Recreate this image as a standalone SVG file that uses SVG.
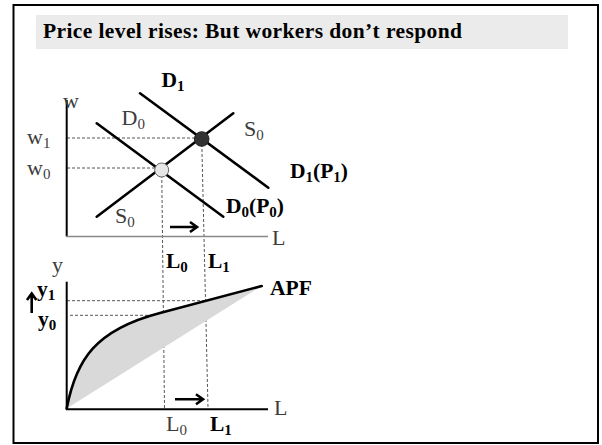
<svg xmlns="http://www.w3.org/2000/svg" width="602" height="445" viewBox="0 0 602 445">
  <style>
    .t { font-family: "Liberation Serif", "Times New Roman", serif; font-size: 21.5px; }
    .b { font-weight: bold; fill: #000; }
    .r { fill: #3c3c3c; font-size: 22px; }
    .sub { font-size: 15px; }
    .curve { stroke: #000; stroke-width: 2.6; fill: none; stroke-linecap: round; }
    .axis { stroke: #000; stroke-width: 2; fill: none; }
    .dash { stroke: #555; stroke-width: 1; stroke-dasharray: 3 2; fill: none; }
    .arrow { stroke: #000; stroke-width: 2.6; fill: none; stroke-linejoin: miter; }
  </style>
  <rect width="602" height="445" fill="#fff"/>
  <g id="frame">
    <rect x="13.5" y="5" width="584.5" height="438" fill="none" stroke="#000" stroke-width="2"/>
  </g>
  <g id="title">
    <rect x="36" y="15" width="532" height="34" fill="#ebebeb"/>
    <text class="t b" x="43" y="38" font-size="19.5" textLength="419">Price level rises: But workers don’t respond</text>
  </g>
  <g id="connectors">
    <line class="dash" x1="67" y1="138" x2="201" y2="138"/>
    <line class="dash" x1="67" y1="168" x2="161" y2="168"/>
    <line class="dash" x1="161.7" y1="170" x2="164.5" y2="408"/>
    <line class="dash" x1="201.7" y1="139" x2="208" y2="408"/>
    <line class="dash" x1="67" y1="300.7" x2="208" y2="300.7"/>
    <line class="dash" x1="70" y1="315.3" x2="163.5" y2="315.3"/>
  </g>
  <g id="labour-market">
    <line class="axis" x1="66.7" y1="100" x2="66.7" y2="236.5"/>
    <line x1="66" y1="236.5" x2="268" y2="236.5" stroke="#888" stroke-width="1.5"/>
    <line class="curve" x1="96.7" y1="123.3" x2="223.3" y2="216.7"/>
    <line class="curve" x1="140" y1="93.3" x2="268.3" y2="187.7"/>
    <line class="curve" x1="96.7" y1="216.7" x2="233.3" y2="113.3"/>
    <circle cx="201.7" cy="139" r="7.3" fill="#333" stroke="#222" stroke-width="1"/>
    <circle cx="161.7" cy="170" r="7" fill="#e6e6e6" stroke="#666" stroke-width="1"/>
    <path class="arrow" d="M170,227 L197,227 M190,222 L197,227 L190,232"/>
    <text class="t r" x="63" y="108" font-size="19">w</text>
    <text class="t r" x="27" y="144">w<tspan class="sub" dy="4">1</tspan></text>
    <text class="t r" x="27" y="175">w<tspan class="sub" dy="4">0</tspan></text>
    <text class="t b" x="161.5" y="87">D<tspan class="sub" dy="4">1</tspan></text>
    <text class="t r" x="121.5" y="125">D<tspan class="sub" dy="4">0</tspan></text>
    <text class="t r" x="244" y="136">S<tspan class="sub" dy="4">0</tspan></text>
    <text class="t r" x="115" y="223">S<tspan class="sub" dy="4">0</tspan></text>
    <text class="t b" x="290" y="178">D<tspan class="sub" dy="4">1</tspan><tspan dy="-4">(P</tspan><tspan class="sub" dy="4">1</tspan><tspan dy="-4">)</tspan></text>
    <text class="t b" x="226" y="213">D<tspan class="sub" dy="4">0</tspan><tspan dy="-4">(P</tspan><tspan class="sub" dy="4">0</tspan><tspan dy="-4">)</tspan></text>
    <text class="t r" x="272" y="245">L</text>
    <text class="t b" x="166" y="268">L<tspan class="sub" dy="4">0</tspan></text>
    <text class="t b" x="208" y="268">L<tspan class="sub" dy="4">1</tspan></text>
  </g>
  <g id="production">
    <path d="M66.7,408.5 C76,360 95,330 160,313 L261.7,286 Z" fill="#d9d9d9"/>
    <path class="curve" d="M66.7,408.5 C76,360 95,330 160,313 L261.7,286"/>
    <line class="axis" x1="66.7" y1="281.7" x2="66.7" y2="409.3"/>
    <line class="axis" x1="66" y1="409.3" x2="268" y2="409.3"/>
    <path class="arrow" d="M175,399.3 L203,399.3 M196,394.3 L203,399.3 L196,404.3"/>
    <path class="arrow" d="M31.7,313 L31.7,293.5 M27,300 L31.7,293.5 L36.4,300"/>
    <text class="t r" x="52" y="272">y</text>
    <text class="t b" x="37" y="296">y<tspan class="sub" dy="4">1</tspan></text>
    <text class="t b" x="38" y="326">y<tspan class="sub" dy="4">0</tspan></text>
    <text class="t b" x="270" y="295">APF</text>
    <text class="t r" x="274" y="415">L</text>
    <text class="t r" x="166" y="431">L<tspan class="sub" dy="4">0</tspan></text>
    <text class="t b" x="210" y="431">L<tspan class="sub" dy="4">1</tspan></text>
  </g>
</svg>
